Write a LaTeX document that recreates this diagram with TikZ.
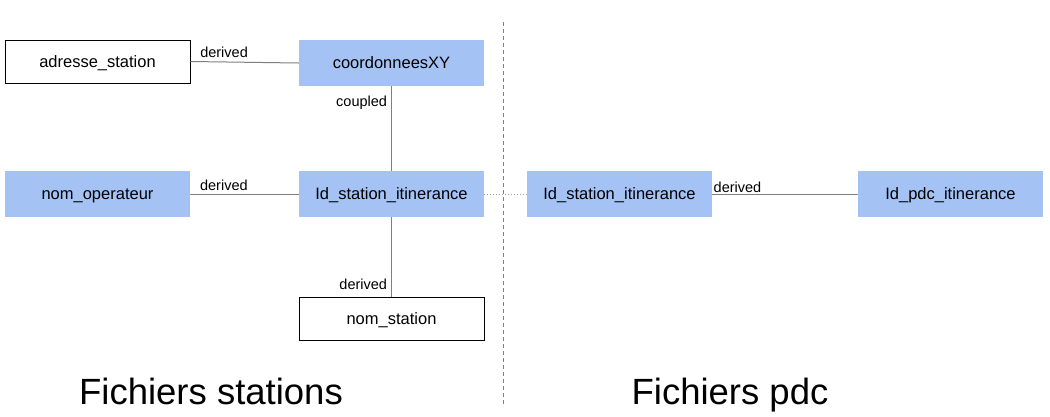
\documentclass[tikz,border=0pt]{standalone}
\usepackage{fontspec}
\setmainfont{Liberation Sans}
\definecolor{boxblue}{HTML}{A4C2F4}
\definecolor{edgegray}{HTML}{7F7F7F}
\tikzset{
  field/.style={rectangle, minimum width=185pt, minimum height=46pt, inner sep=0pt, font=\fontsize{16.5}{19}\selectfont, text height=11.8pt, text depth=0pt},
  bluefield/.style={field, fill=boxblue},
  whitefield/.style={field, draw=black, line width=1pt, minimum height=43pt},
  link/.style={draw=edgegray, line width=1pt},
  lbl/.style={font=\fontsize{14.5}{16}\selectfont, inner sep=2pt},
  title/.style={font=\fontsize{36.5}{42}\selectfont, inner sep=0pt, text height=26.1pt, text depth=0pt}
}
\begin{document}
\begin{tikzpicture}[x=1pt,y=-1pt]
\useasboundingbox (0,0) rectangle (1050,416);
\node[whitefield] (adr) at (97.5,61.5) {adresse\_station};
\node[bluefield] (coord) at (391.5,63) {coordonneesXY};
\node[bluefield] (op) at (97.5,194) {nom\_operateur};
\node[bluefield] (idl) at (391.5,194) {Id\_station\_itinerance};
\node[whitefield] (nst) at (391.5,318.5) {nom\_station};
\node[bluefield] (idr) at (619.5,194) {Id\_station\_itinerance};
\node[bluefield] (pdc) at (950.5,194) {Id\_pdc\_itinerance};

\draw[link] (adr.east) -- node[lbl, pos=0.31, above=2pt] {derived} (coord.west);
\draw[link] (coord.south) -- node[lbl, pos=0.19, left=2pt] {coupled} (idl.north);
\draw[link] (op.east) -- node[lbl, pos=0.31, above=1pt] {derived} (idl.west);
\draw[link] (idl.south) -- node[lbl, pos=0.85, left=2pt] {derived} (nst.north);
\draw[draw=edgegray!70, line width=1pt, dotted] (idl.east) -- (idr.west);
\draw[link] (idr.east) -- node[lbl, pos=0, anchor=south west, inner sep=1pt] {derived} (pdc.west);

\coordinate (dtop) at (503,22);
\coordinate (dbot) at (503,407);
\draw[draw=edgegray, line width=1pt, dash pattern=on 4pt off 3pt] (dtop) -- (dbot);

\node[title] (t1) at (211,391) {Fichiers stations};
\node[title] (t2) at (730,391) {Fichiers pdc};
\end{tikzpicture}
\end{document}
